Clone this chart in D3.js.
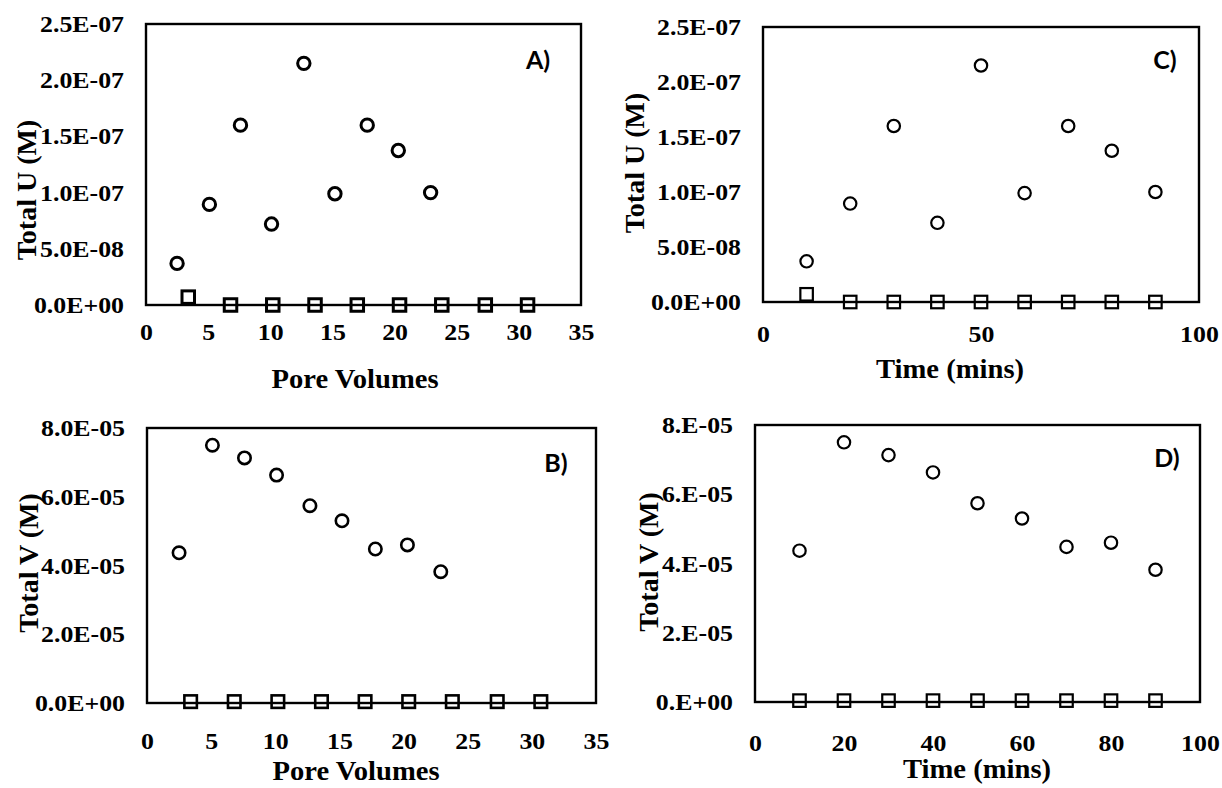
<!DOCTYPE html>
<html>
<head>
<meta charset="utf-8">
<script src="https://cdn.jsdelivr.net/npm/d3@7"></script>
<style>
  html, body { margin: 0; padding: 0; background: #fff; }
  svg { display: block; }
  .tick text { font-family: "Liberation Serif", "Times New Roman", serif; font-weight: bold; fill: #000; }
  text.title { font-family: "Liberation Serif", "Times New Roman", serif; font-weight: bold; fill: #000; }
  text.plabel { font-family: Lato, "Open Sans", sans-serif; font-weight: bold; fill: #000; }
</style>
</head>
<body>
<svg id="chart" width="1222" height="788"></svg>
<script>
// ---- data ----
const poreVolCircles = [2.5, 5.1, 7.6, 10.1, 12.7, 15.2, 17.8, 20.3, 22.9];
const poreVolSquares = [3.4, 6.8, 10.2, 13.6, 17.0, 20.4, 23.8, 27.3, 30.7];
const timeMins = [10, 20, 30, 40, 50, 60, 70, 80, 90];

const totalU_circles = [3.7e-8, 8.95e-8, 1.60e-7, 7.2e-8, 2.15e-7, 9.9e-8, 1.60e-7, 1.375e-7, 1.0e-7];
const totalU_squares = [7e-9, 0, 0, 0, 0, 0, 0, 0, 0];
const totalV_circles = [4.37e-5, 7.5e-5, 7.13e-5, 6.63e-5, 5.74e-5, 5.3e-5, 4.48e-5, 4.6e-5, 3.82e-5];
const totalV_squares = [4e-7, 4e-7, 4e-7, 4e-7, 4e-7, 4e-7, 4e-7, 4e-7, 4e-7];

const poreVolTicks = [0, 5, 10, 15, 20, 25, 30, 35];
const timeTicksC = [0, 50, 100];
const timeTicksD = [0, 20, 40, 60, 80, 100];
const uTicks = [0, 5e-8, 1e-7, 1.5e-7, 2e-7, 2.5e-7];
const uTickLabels = ["0.0E+00", "5.0E-08", "1.0E-07", "1.5E-07", "2.0E-07", "2.5E-07"];
const vTicks = [0, 2e-5, 4e-5, 6e-5, 8e-5];
const vTickLabelsB = ["0.0E+00", "2.0E-05", "4.0E-05", "6.0E-05", "8.0E-05"];
const vTickLabelsD = ["0.E+00", "2.E-05", "4.E-05", "6.E-05", "8.E-05"];

const svg = d3.select("#chart");

const panels = [
  { box: [146, 24, 581, 305], xDom: [0, 35], yDom: [0, 2.5e-7], xTicks: poreVolTicks, yTicks: uTicks, yLabels: uTickLabels,
    cx: poreVolCircles, cy: totalU_circles, sx: poreVolSquares, sy: totalU_squares,
    xTitle: "Pore Volumes", yTitle: "Total U (M)", label: "A)", labelPos: [538, 60],
    xTitlePos: [355, 379], yTitlePos: [26, 190], yLabelX: 124, xLabelY: 332, sw: 3 },
  { box: [763, 27, 1199, 302], xDom: [0, 100], yDom: [0, 2.5e-7], xTicks: timeTicksC, yTicks: uTicks, yLabels: uTickLabels,
    cx: timeMins, cy: totalU_circles, sx: timeMins, sy: totalU_squares,
    xTitle: "Time (mins)", yTitle: "Total U (M)", label: "C)", labelPos: [1165, 60],
    xTitlePos: [950, 369], yTitlePos: [634, 163], yLabelX: 741, xLabelY: 334, sw: 2.2 },
  { box: [147, 428, 596, 703], xDom: [0, 35], yDom: [0, 8e-5], xTicks: poreVolTicks, yTicks: vTicks, yLabels: vTickLabelsB,
    cx: poreVolCircles, cy: totalV_circles, sx: poreVolSquares, sy: totalV_squares,
    xTitle: "Pore Volumes", yTitle: "Total V (M)", label: "B)", labelPos: [556, 463],
    xTitlePos: [356, 771], yTitlePos: [28, 563], yLabelX: 125, xLabelY: 741, sw: 2.6 },
  { box: [755, 425, 1200, 702], xDom: [0, 100], yDom: [0, 8e-5], xTicks: timeTicksD, yTicks: vTicks, yLabels: vTickLabelsD,
    cx: timeMins, cy: totalV_circles, sx: timeMins, sy: totalV_squares,
    xTitle: "Time (mins)", yTitle: "Total V (M)", label: "D)", labelPos: [1167, 458],
    xTitlePos: [977, 769], yTitlePos: [648, 562], yLabelX: 733, xLabelY: 743, sw: 2.2 }
];

panels.forEach(p => {
  const [x0, y0, x1, y1] = p.box;
  const x = d3.scaleLinear().domain(p.xDom).range([x0, x1]);
  const y = d3.scaleLinear().domain(p.yDom).range([y1, y0]);
  const g = svg.append("g");

  // frame
  g.append("rect").attr("x", x0).attr("y", y0).attr("width", x1 - x0).attr("height", y1 - y0)
    .attr("fill", "none").attr("stroke", "#000").attr("stroke-width", 2.4);

  // x axis labels
  const xa = g.append("g").attr("transform", `translate(0,${y1})`)
    .call(d3.axisBottom(x).tickValues(p.xTicks).tickSize(0).tickFormat(d3.format("d")));
  xa.select(".domain").remove();
  xa.selectAll("text").attr("font-size", 23.5).attr("y", p.xLabelY - y1).attr("dy", "0.35em")
    .attr("transform", "scale(1.1,1)");

  // y axis labels
  const ya = g.append("g").attr("transform", `translate(${p.yLabelX},0)`)
    .call(d3.axisLeft(y).tickValues(p.yTicks).tickSize(0).tickPadding(0).tickFormat((d, i) => p.yLabels[i]));
  ya.select(".domain").remove();
  ya.selectAll("text").attr("font-size", 23.5).attr("transform", "scale(1.1,1)");

  // circles
  g.selectAll("circle.c").data(p.cx).join("circle").attr("class", "c")
    .attr("cx", d => x(d)).attr("cy", (d, i) => y(p.cy[i])).attr("r", 6.2)
    .attr("fill", "none").attr("stroke", "#000").attr("stroke-width", p.sw);

  // squares
  const s = 12.5;
  g.selectAll("rect.s").data(p.sx).join("rect").attr("class", "s")
    .attr("x", d => x(d) - s / 2).attr("y", (d, i) => y(p.sy[i]) - s / 2)
    .attr("width", s).attr("height", s)
    .attr("fill", "none").attr("stroke", "#000").attr("stroke-width", p.sw);

  // titles
  g.append("text").attr("class", "title")
    .attr("transform", `translate(${p.xTitlePos[0]},${p.xTitlePos[1]}) scale(1.06,1)`)
    .attr("text-anchor", "middle").attr("dy", "0.35em").attr("font-size", 27).text(p.xTitle);
  g.append("text").attr("class", "title")
    .attr("transform", `translate(${p.yTitlePos[0]},${p.yTitlePos[1]}) rotate(-90)`)
    .attr("text-anchor", "middle").attr("dy", "0.35em").attr("font-size", 28).text(p.yTitle);
  g.append("text").attr("class", "plabel").attr("x", p.labelPos[0]).attr("y", p.labelPos[1])
    .attr("text-anchor", "middle").attr("dy", "0.35em").attr("font-size", 25).text(p.label);
});
</script>
</body>
</html>
